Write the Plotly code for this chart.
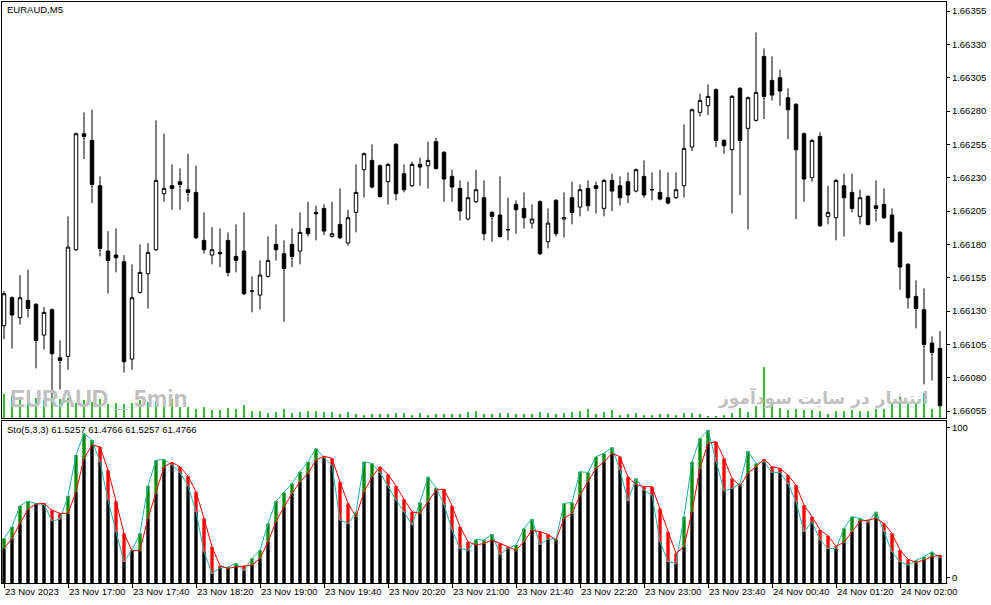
import plotly.graph_objects as go
import numpy as np

# EURAUD M5 candles, one per 5 minutes
opens = [1.66119, 1.66140, 1.66125, 1.66138, 1.66135, 1.66112, 1.66131, 1.66095, 1.66096, 1.66176,
         1.66263, 1.66258, 1.66224, 1.66175, 1.66172, 1.66167, 1.66094, 1.66144, 1.66158, 1.66176,
         1.66218, 1.66224, 1.66227, 1.66221, 1.66219, 1.66183, 1.66172, 1.66174, 1.66183, 1.66171,
         1.66175, 1.66145, 1.66142, 1.66156, 1.66180, 1.66173, 1.66180, 1.66175, 1.66192, 1.66204,
         1.66207, 1.66186, 1.66195, 1.66181, 1.66204, 1.66236, 1.66243, 1.66239, 1.66227, 1.66255,
         1.66233, 1.66224, 1.66240, 1.66239, 1.66257, 1.66249, 1.66231, 1.66222, 1.66199, 1.66212,
         1.66215, 1.66204, 1.66202, 1.66191, 1.66210, 1.66207, 1.66196, 1.66212, 1.66182, 1.66213,
         1.66199, 1.66215, 1.66208, 1.66222, 1.66224, 1.66207, 1.66228, 1.66224, 1.66227, 1.66220,
         1.66231, 1.66221, 1.66219, 1.66215, 1.66215, 1.66224, 1.66253, 1.66279, 1.66284, 1.66296,
         1.66258, 1.66251, 1.66297, 1.66267, 1.66273, 1.66321, 1.66303, 1.66305, 1.66290, 1.66285,
         1.66263, 1.66230, 1.66261, 1.66201, 1.66200, 1.66224, 1.66219, 1.66201, 1.66216, 1.66209,
         1.66210, 1.66202, 1.66189, 1.66165, 1.66141, 1.66131, 1.66106, 1.66102]
highs = [1.66145, 1.66141, 1.66157, 1.66161, 1.66136, 1.66133, 1.66132, 1.66108, 1.66201, 1.66264,
         1.66279, 1.66281, 1.66231, 1.66190, 1.66192, 1.66172, 1.66165, 1.66180, 1.66181, 1.66273,
         1.66263, 1.66240, 1.66237, 1.66248, 1.66239, 1.66204, 1.66193, 1.66192, 1.66189, 1.66195,
         1.66204, 1.66156, 1.66168, 1.66186, 1.66195, 1.66183, 1.66192, 1.66204, 1.66212, 1.66209,
         1.66210, 1.66212, 1.66222, 1.66206, 1.66240, 1.66249, 1.66255, 1.66240, 1.66241, 1.66256,
         1.66240, 1.66242, 1.66245, 1.66257, 1.66260, 1.66250, 1.66236, 1.66228, 1.66227, 1.66236,
         1.66228, 1.66205, 1.66231, 1.66215, 1.66213, 1.66219, 1.66210, 1.66213, 1.66207, 1.66214,
         1.66219, 1.66227, 1.66225, 1.66228, 1.66227, 1.66229, 1.66233, 1.66231, 1.66234, 1.66237,
         1.66243, 1.66234, 1.66236, 1.66234, 1.66234, 1.66270, 1.66282, 1.66293, 1.66300, 1.66297,
         1.66259, 1.66292, 1.66298, 1.66291, 1.66339, 1.66327, 1.66321, 1.66311, 1.66297, 1.66286,
         1.66264, 1.66259, 1.66264, 1.66224, 1.66229, 1.66233, 1.66233, 1.66221, 1.66217, 1.66228,
         1.66222, 1.66207, 1.66190, 1.66166, 1.66153, 1.66147, 1.66111, 1.66115]
lows = [1.66109, 1.66102, 1.66120, 1.66125, 1.66087, 1.66101, 1.66065, 1.66071, 1.66086, 1.66175,
        1.66244, 1.66211, 1.66171, 1.66143, 1.66159, 1.66084, 1.66086, 1.66143, 1.66132, 1.66175,
        1.66212, 1.66206, 1.66206, 1.66212, 1.66184, 1.66173, 1.66165, 1.66163, 1.66156, 1.66159,
        1.66142, 1.66129, 1.66131, 1.66155, 1.66168, 1.66122, 1.66163, 1.66165, 1.66186, 1.66183,
        1.66187, 1.66185, 1.66184, 1.66179, 1.66189, 1.66215, 1.66222, 1.66215, 1.66210, 1.66213,
        1.66219, 1.66223, 1.66224, 1.66222, 1.66236, 1.66212, 1.66212, 1.66198, 1.66198, 1.66211,
        1.66183, 1.66182, 1.66185, 1.66183, 1.66188, 1.66192, 1.66192, 1.66172, 1.66177, 1.66186,
        1.66185, 1.66195, 1.66201, 1.66205, 1.66203, 1.66201, 1.66205, 1.66209, 1.66211, 1.66219,
        1.66215, 1.66213, 1.66213, 1.66210, 1.66214, 1.66215, 1.66250, 1.66276, 1.66277, 1.66253,
        1.66248, 1.66203, 1.66217, 1.66191, 1.66272, 1.66274, 1.66288, 1.66284, 1.66259, 1.66199,
        1.66212, 1.66227, 1.66193, 1.66195, 1.66183, 1.66186, 1.66204, 1.66195, 1.66194, 1.66197,
        1.66199, 1.66181, 1.66146, 1.66132, 1.66117, 1.66075, 1.66078, 1.66058]
closes = [1.66143, 1.66127, 1.66140, 1.66132, 1.66108, 1.66129, 1.66098, 1.66093, 1.66178, 1.66263,
          1.66261, 1.66225, 1.66177, 1.66168, 1.66170, 1.66092, 1.66140, 1.66159, 1.66174, 1.66228,
          1.66222, 1.66222, 1.66225, 1.66219, 1.66185, 1.66176, 1.66176, 1.66173, 1.66159, 1.66168,
          1.66143, 1.66145, 1.66157, 1.66168, 1.66176, 1.66162, 1.66171, 1.66189, 1.66188, 1.66203,
          1.66190, 1.66188, 1.66185, 1.66200, 1.66219, 1.66248, 1.66223, 1.66216, 1.66240, 1.66218,
          1.66221, 1.66240, 1.66238, 1.66243, 1.66237, 1.66229, 1.66223, 1.66205, 1.66215, 1.66221,
          1.66188, 1.66201, 1.66186, 1.66191, 1.66206, 1.66200, 1.66199, 1.66173, 1.66196, 1.66188,
          1.66200, 1.66204, 1.66221, 1.66209, 1.66222, 1.66228, 1.66220, 1.66215, 1.66217, 1.66236,
          1.66217, 1.66221, 1.66214, 1.66211, 1.66221, 1.66252, 1.66281, 1.66288, 1.66291, 1.66258,
          1.66254, 1.66291, 1.66258, 1.66290, 1.66294, 1.66291, 1.66292, 1.66295, 1.66281, 1.66251,
          1.66229, 1.66258, 1.66194, 1.66204, 1.66228, 1.66215, 1.66207, 1.66215, 1.66195, 1.66207,
          1.66200, 1.66182, 1.66163, 1.66140, 1.66132, 1.66105, 1.66099, 1.66059]
volumes = [240, 220, 210, 180, 200, 180, 220, 190, 200, 150,
           180, 160, 190, 140, 150, 140, 150, 180, 160, 170,
           170, 190, 110, 110, 90, 110, 80, 80, 100, 90,
           130, 70, 70, 50, 60, 90, 50, 60, 70, 70,
           60, 60, 40, 60, 40, 30, 40, 40, 40, 50,
           50, 30, 50, 30, 40, 40, 40, 40, 60, 70,
           40, 40, 50, 50, 40, 40, 40, 60, 50, 40,
           50, 60, 70, 90, 40, 60, 80, 30, 40, 50,
           30, 30, 40, 40, 30, 50, 50, 40, 20, 20,
           30, 50, 100, 60, 120, 510, 160, 100, 80, 90,
           80, 80, 70, 40, 70, 70, 80, 70, 70, 90,
           90, 150, 210, 140, 150, 250, 90, 110]

# Stochastic(5,3,3): main (%K) and signal (%D)
stoch_k = [26.2, 34.0, 48.0, 51.1, 49.5, 48.9, 37.8, 39.1, 54.4, 81.8,
           96.2, 91.8, 77.3, 51.8, 30.7, 10.7, 18.5, 29.6, 61.3, 78.4,
           78.9, 75.1, 70.2, 61.3, 44.0, 17.3, 2.9, 6.5, 7.1, 9.6,
           4.9, 12.9, 18.4, 36.2, 51.1, 56.9, 62.9, 70.7, 77.3, 86.2,
           80.0, 75.0, 38.4, 36.2, 43.6, 77.3, 76.2, 70.2, 61.3, 51.8,
           44.0, 35.1, 50.2, 67.3, 60.0, 48.9, 31.8, 19.6, 18.4, 25.6,
           25.1, 29.1, 15.6, 19.6, 21.8, 32.9, 39.1, 22.2, 25.8, 25.8,
           49.6, 50.2, 70.7, 70.2, 80.7, 82.9, 86.9, 71.8, 51.1, 66.2,
           58.4, 55.1, 24.0, 10.7, 9.6, 40.7, 77.3, 92.9, 98.4, 77.3,
           57.8, 59.6, 62.9, 84.4, 76.2, 77.3, 70.2, 70.2, 62.9, 50.7,
           30.7, 37.3, 25.1, 19.6, 19.5, 32.9, 40.7, 39.6, 36.9, 44.0,
           30.7, 17.3, 10.7, 8.4, 11.6, 14.0, 17.3, 13.3]
stoch_d = [19.6, 26.2, 36.2, 45.6, 49.1, 49.6, 45.1, 42.9, 42.9, 57.3,
           79.6, 88.4, 87.3, 71.8, 51.1, 29.6, 18.0, 18.4, 39.6, 56.2,
           74.0, 76.9, 74.0, 67.8, 57.3, 39.6, 20.7, 8.0, 6.2, 7.3,
           7.8, 8.4, 12.9, 24.0, 37.3, 47.3, 56.2, 64.0, 69.6, 78.4,
           81.1, 79.6, 64.0, 49.6, 40.7, 57.3, 67.3, 74.0, 68.9, 61.3,
           52.4, 44.0, 42.9, 50.7, 58.4, 59.1, 48.0, 34.0, 24.0, 21.8,
           22.9, 25.1, 22.9, 20.7, 18.4, 24.0, 31.8, 30.7, 28.9, 25.1,
           39.6, 42.9, 55.1, 64.0, 72.9, 77.3, 82.9, 80.7, 67.3, 62.2,
           60.7, 60.7, 46.2, 30.7, 16.2, 20.7, 44.0, 72.9, 89.6, 90.7,
           79.6, 66.2, 61.3, 69.6, 74.0, 79.1, 74.0, 72.9, 68.4, 61.8,
           48.4, 40.7, 31.8, 28.0, 21.0, 23.6, 30.7, 37.8, 38.4, 39.6,
           36.2, 29.6, 18.4, 12.4, 10.2, 11.8, 14.0, 15.1]

time_ticks = list(range(0, 113, 8))
time_labels = ["23 Nov 2023", "23 Nov 17:00", "23 Nov 17:40", "23 Nov 18:20", "23 Nov 19:00",
               "23 Nov 19:40", "23 Nov 20:20", "23 Nov 21:00", "23 Nov 21:40", "23 Nov 22:20",
               "23 Nov 23:00", "23 Nov 23:40", "24 Nov 00:40", "24 Nov 01:20", "24 Nov 02:00"]
price_ticks = [1.66055, 1.66080, 1.66105, 1.66130, 1.66155, 1.66180, 1.66205,
               1.66230, 1.66255, 1.66280, 1.66305, 1.66330, 1.66355]
price_labels = ["%.5f" % p for p in price_ticks]

W, H = 991, 605
FONT = "Liberation Sans"
idx = list(range(len(opens)))

k = np.array(stoch_k)
d = np.array(stoch_d)
lo = np.minimum(k, d)
hi = np.maximum(k, d)
sig_colors = ["#008a00" if a >= b else "#ff0000" for a, b in zip(k, d)]

fig = go.Figure()

# volumes (green sticks at the bottom of the price window)
fig.add_trace(go.Bar(x=idx, y=volumes, xaxis="x", yaxis="y3", width=0.13,
                     marker=dict(color="#3cb83c", line_width=0)))

fig.add_trace(go.Candlestick(
    x=idx, open=opens, high=highs, low=lows, close=closes,
    xaxis="x", yaxis="y", whiskerwidth=0,
    increasing=dict(fillcolor="white", line=dict(color="black", width=1)),
    decreasing=dict(fillcolor="black", line=dict(color="black", width=1)),
))

# stochastic histogram: black up to the lower line, coloured gap between the lines
floor = -6
fig.add_trace(go.Bar(x=idx, y=lo - floor, base=floor, xaxis="x2", yaxis="y2", width=0.42,
                     marker=dict(color="black", line_width=0)))
fig.add_trace(go.Bar(x=idx, y=hi - lo, base=lo, xaxis="x2", yaxis="y2", width=0.42,
                     marker=dict(color=sig_colors, line_width=0)))
fig.add_trace(go.Scatter(x=idx, y=stoch_k, xaxis="x2", yaxis="y2", mode="lines",
                         line=dict(color="#20b2aa", width=1)))
fig.add_trace(go.Scatter(x=idx, y=stoch_d, xaxis="x2", yaxis="y2", mode="lines",
                         line=dict(color="#ff0000", width=1)))

xdom = [2 / W, 946 / W]
xr = [-0.25, len(opens) - 0.25]
frame = dict(showline=True, linecolor="black", linewidth=1, mirror=True, showgrid=False,
             zeroline=False, automargin=False)
tickfont = dict(family=FONT, size=9.5, color="black")

fig.update_layout(
    width=W, height=H, autosize=False, margin=dict(l=0, r=0, t=0, b=0, pad=0),
    paper_bgcolor="white", plot_bgcolor="white",
    showlegend=False, barmode="overlay", boxgap=0.38,
    xaxis=dict(domain=xdom, range=xr, anchor="y", showticklabels=False, ticks="",
               rangeslider=dict(visible=False), **frame),
    xaxis2=dict(domain=xdom, range=xr, anchor="y2", tickmode="array", tickvals=time_ticks,
                ticktext=time_labels, ticks="outside", ticklen=4, tickcolor="black",
                tickangle=0, ticklabelposition="outside right", tickfont=tickfont, **frame),
    yaxis=dict(domain=[1 - 418 / H, 1 - 2 / H], range=[1.660498, 1.663618], anchor="x",
               side="right", tickmode="array", tickvals=price_ticks, ticktext=price_labels,
               ticks="outside", ticklen=3, tickcolor="black", tickfont=tickfont, **frame),
    yaxis3=dict(overlaying="y", range=[0, 4160], visible=False, automargin=False),
    yaxis2=dict(domain=[1 - 583 / H, 1 - 421 / H], range=[-3.5, 104.5], anchor="x2",
                side="right", tickmode="array", tickvals=[0, 100],
                ticks="outside", ticklen=3, tickcolor="black", tickfont=tickfont, **frame),
)

fig.add_annotation(text="EURAUD,M5", x=5 / W, y=1 - 10 / H, xref="paper", yref="paper",
                   xanchor="left", yanchor="middle", showarrow=False,
                   font=dict(family=FONT, size=9.5, color="black"))
fig.add_annotation(text="Sto(5,3,3) 61.5257 61.4766 61.5257 61.4766", x=5 / W, y=1 - 429 / H,
                   xref="paper", yref="paper", xanchor="left", yanchor="middle", showarrow=False,
                   font=dict(family=FONT, size=9.5, color="black"))
# watermarks
fig.add_annotation(text="<b>EURAUD _ 5min</b>", x=8 / W, y=1 - 399 / H, xref="paper", yref="paper",
                   xanchor="left", yanchor="middle", showarrow=False,
                   font=dict(family="Liberation Sans", size=23, color="#c0c0c0"))
fig.add_annotation(text="<b>انتشار در سایت سودآموز</b>", x=930 / W, y=1 - 398 / H,
                   xref="paper", yref="paper", xanchor="right", yanchor="middle", showarrow=False,
                   font=dict(family="DejaVu Sans", size=17, color="#c0c0c0"))

# the page's default margin and scrollbars would shift/squeeze the figure
page_fix = ("document.documentElement.style.overflow='hidden';"
            "document.body.style.margin='0';"
            "document.body.style.overflow='hidden';")
fig.write_html("out.html", post_script=page_fix,
               config={"displayModeBar": False, "responsive": False})
